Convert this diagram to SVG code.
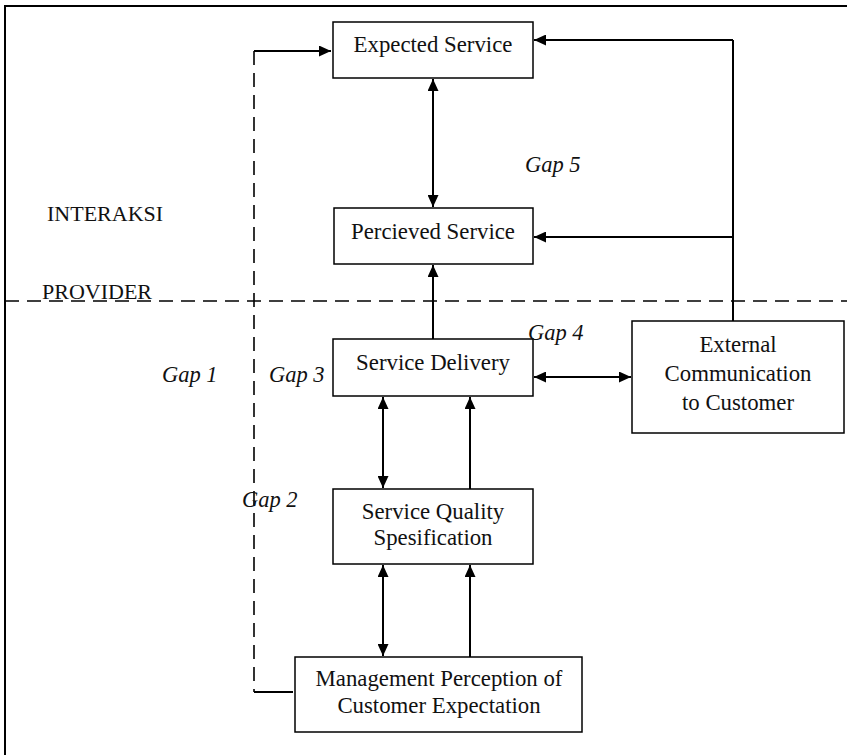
<svg xmlns="http://www.w3.org/2000/svg" width="847" height="755" viewBox="0 0 847 755">
  <style>
    .box { fill: #fff; stroke: #000; stroke-width: 1.5; }
    .lbl { font-family: "Liberation Serif", "Times New Roman", serif; font-size: 22.8px; fill: #111; text-anchor: middle; }
    .gap { font-family: "Liberation Serif", "Times New Roman", serif; font-size: 22.5px; font-style: italic; fill: #111; }
    .side { font-family: "Liberation Serif", "Times New Roman", serif; font-size: 22px; fill: #111; }
    .wire { fill: none; stroke: #000; stroke-width: 2; }
    .dash { fill: none; stroke: #000; stroke-width: 1.6; stroke-dasharray: 14 8; }
  </style>
  <defs>
    <marker id="arrow" viewBox="0 0 12 11" refX="12" refY="5.5" markerWidth="12" markerHeight="11" markerUnits="userSpaceOnUse" orient="auto-start-reverse">
      <path d="M0,0 L12,5.5 L0,11 z" fill="#000"/>
    </marker>
  </defs>

  <rect width="847" height="755" fill="#fff"/>

  <!-- frame: top and left edges only -->
  <path d="M5,755 V6 H847" fill="none" stroke="#000" stroke-width="2"/>

  <!-- boundary between interaction and provider zones -->
  <line class="dash" x1="5" y1="301" x2="847" y2="301"/>
  <text class="side" x="47" y="221">INTERAKSI</text>
  <text class="side" x="42" y="299">PROVIDER</text>

  <g id="connectors">
    <!-- Gap 1 feedback: management perception back to expected service -->
    <line class="dash" x1="254" y1="51" x2="254" y2="692"/>
    <path class="wire" d="M254,692 H293"/>
    <path class="wire" d="M254,51 H331" marker-end="url(#arrow)"/>
    <!-- expected <-> perceived -->
    <line class="wire" x1="433" y1="79" x2="433" y2="207" marker-start="url(#arrow)" marker-end="url(#arrow)"/>
    <!-- delivery -> perceived -->
    <line class="wire" x1="433" y1="339" x2="433" y2="265" marker-end="url(#arrow)"/>
    <!-- external communication feeds expected and perceived -->
    <path class="wire" d="M733,321 V40"/>
    <line class="wire" x1="733" y1="40" x2="534" y2="40" marker-end="url(#arrow)"/>
    <line class="wire" x1="733" y1="237" x2="534" y2="237" marker-end="url(#arrow)"/>
    <!-- delivery <-> external -->
    <line class="wire" x1="534" y1="377" x2="631" y2="377" marker-start="url(#arrow)" marker-end="url(#arrow)"/>
    <!-- specification <-> delivery -->
    <line class="wire" x1="383" y1="397" x2="383" y2="488" marker-start="url(#arrow)" marker-end="url(#arrow)"/>
    <line class="wire" x1="470" y1="489" x2="470" y2="397" marker-end="url(#arrow)"/>
    <!-- management <-> specification -->
    <line class="wire" x1="383" y1="565" x2="383" y2="656" marker-start="url(#arrow)" marker-end="url(#arrow)"/>
    <line class="wire" x1="470" y1="657" x2="470" y2="565" marker-end="url(#arrow)"/>
  </g>

  <g id="expected-service">
    <rect class="box" x="333" y="22" width="200" height="56"/>
    <text class="lbl" x="433" y="52">Expected Service</text>
  </g>

  <g id="perceived-service">
    <rect class="box" x="334" y="208" width="199" height="56"/>
    <text class="lbl" x="433" y="239">Percieved Service</text>
  </g>

  <g id="service-delivery">
    <rect class="box" x="333" y="339" width="200" height="57"/>
    <text class="lbl" x="433" y="370">Service Delivery</text>
  </g>

  <g id="external-communication">
    <rect class="box" x="632" y="321" width="212" height="112"/>
    <text class="lbl" x="738" y="352">External</text>
    <text class="lbl" x="738" y="381">Communication</text>
    <text class="lbl" x="738" y="410">to Customer</text>
  </g>

  <g id="service-quality-specification">
    <rect class="box" x="333" y="489" width="200" height="75"/>
    <text class="lbl" x="433" y="519">Service Quality</text>
    <text class="lbl" x="433" y="545">Spesification</text>
  </g>

  <g id="management-perception">
    <rect class="box" x="295" y="657" width="287" height="75"/>
    <text class="lbl" x="439" y="686">Management Perception of</text>
    <text class="lbl" x="439" y="713">Customer Expectation</text>
  </g>

  <g id="gap-labels">
    <text class="gap" x="525" y="172">Gap 5</text>
    <text class="gap" x="528" y="340">Gap 4</text>
    <text class="gap" x="162" y="382">Gap 1</text>
    <text class="gap" x="269" y="382">Gap 3</text>
    <text class="gap" x="242" y="507">Gap 2</text>
  </g>
</svg>
